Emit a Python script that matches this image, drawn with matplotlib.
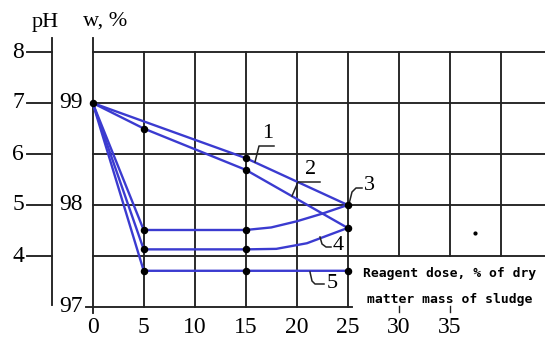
import matplotlib
matplotlib.use("Agg")
import matplotlib.pyplot as plt

# ---- data (curves given in pH-axis units; w = 97 + (pH - 3) / 2) ----
dose_ticks = [0, 5, 10, 15, 20, 25, 30, 35]
ph_ticks = [8, 7, 6, 5, 4]
w_ticks = [99, 98, 97]
w_tick_pos = [7, 5, 3]

c1_x = [0, 15, 25]
c1_y = [7, 5.92, 5.0]
c2_x = [0, 5, 15, 25]
c2_y = [7, 6.5, 5.69, 4.55]
c3_x = [0, 5, 15, 17.5, 20, 22.5, 25]
c3_y = [7, 4.51, 4.51, 4.56, 4.68, 4.83, 5.0]
c4_x = [0, 5, 15, 18, 21, 25]
c4_y = [7, 4.13, 4.13, 4.14, 4.25, 4.55]
c5_x = [0, 5, 15, 25]
c5_y = [7, 3.71, 3.71, 3.71]

mark_x = [0, 5, 15, 15, 25, 25, 5, 15, 5, 15, 5, 15, 25]
mark_y = [7, 6.5, 5.92, 5.69, 5.0, 4.55, 4.51, 4.51, 4.13, 4.13, 3.71, 3.71, 3.71]
stray_x = [37.5]
stray_y = [4.46]

curve_labels = ["1", "2", "3", "4", "5"]

# ---- pixel <-> data mapping for layout ----
X0, SX = 92.7, 10.2
Y7, SY = 103.0, 51.0


def dx(px):
    return (px - X0) / SX


def dy(py):
    return 7 - (py - Y7) / SY


fig = plt.figure(figsize=(5.45, 3.38), dpi=100)
ax = fig.add_axes([0, 0, 1, 1])
ax.set_xlim(dx(0), dx(545))
ax.set_ylim(dy(338), dy(0))
ax.axis("off")

K = "#222222"
LW = 1.35
BLUE = "#3b3bd0"

# grid
for p in ph_ticks:
    ax.plot([0, dx(545)], [p, p], color=K, lw=LW)
ax.plot([dx(86), dx(352)], [3, 3], color=K, lw=LW)
for d in [5, 10, 15, 20, 25]:
    ax.plot([d, d], [8, 3], color=K, lw=LW)
for d in [30, 35, 40]:
    ax.plot([d, d], [8, 4], color=K, lw=LW)
for d in [30, 35]:
    ax.plot([d, d], [dy(306), dy(312)], color=K, lw=1.0)

# axes
ax.plot([0, 0], [dy(38), dy(313)], color=K, lw=LW)
ax.plot([dx(52), dx(52)], [dy(38), dy(305)], color=K, lw=LW)
for p in ph_ticks:
    ax.plot([dx(27), dx(52)], [p, p], color=K, lw=LW)

serif = "Liberation Serif"
for p in ph_ticks:
    ax.text(dx(18), p, str(p), ha="center", va="center", fontsize=17, family=serif)
for w, p in zip(w_ticks, w_tick_pos):
    ax.text(dx(83), p, str(w), ha="right", va="center", fontsize=17, family=serif)
for d in dose_ticks:
    ax.text(d, dy(327), str(d), ha="center", va="center", fontsize=17, family=serif)
ax.text(dx(45), dy(22), "pH", ha="center", va="center", fontsize=16, family=serif)
ax.text(dx(105), dy(21), "w, %", ha="center", va="center", fontsize=16, family=serif)

mono = "DejaVu Sans Mono"
ax.text(dx(450), dy(273), "Reagent dose, % of dry", ha="center", va="center",
        fontsize=9.4, family=mono, fontweight="bold")
ax.text(dx(450), dy(300), "matter mass of sludge", ha="center", va="center",
        fontsize=9.4, family=mono, fontweight="bold")

# curves
for xs, ys in [(c1_x, c1_y), (c2_x, c2_y), (c3_x, c3_y), (c4_x, c4_y), (c5_x, c5_y)]:
    ax.plot(xs, ys, color=BLUE, lw=1.7, solid_joinstyle="round")
ax.plot(mark_x, mark_y, "o", color="black", ms=4.4, zorder=5)
ax.plot(stray_x, stray_y, "o", color="black", ms=2, zorder=5)

# curve labels with leader lines
leaders = [
    [(255, 162), (259, 146), (274, 146)],
    [(292, 196), (298, 182), (320, 182)],
    [(349, 204), (352, 192), (356, 188), (362, 188)],
    [(320, 237), (322, 244), (326, 247), (331, 247)],
    [(310, 272), (312, 281), (315, 284), (324, 284)],
]
label_pos = [(268, 134), (311, 169), (369, 186), (338, 245), (332, 283)]
for lab, lead, (tx, ty) in zip(curve_labels, leaders, label_pos):
    ax.plot([dx(a) for a, b in lead], [dy(b) for a, b in lead], color=K, lw=1.1)
    ax.text(dx(tx), dy(ty), lab, ha="center", va="center", fontsize=16, family=serif)

fig.savefig("out.png", dpi=100)
